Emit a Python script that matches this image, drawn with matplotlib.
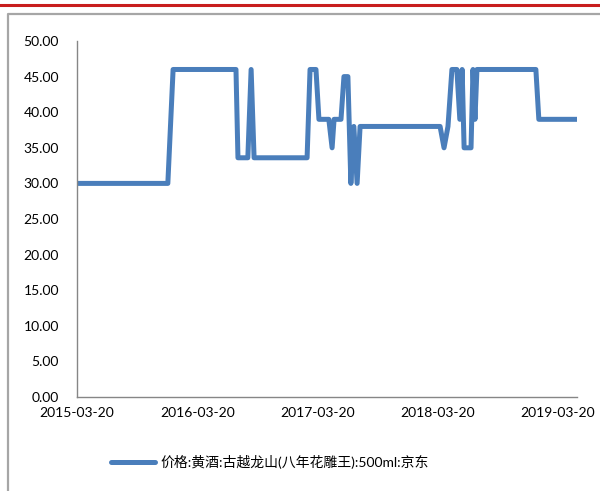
import matplotlib
matplotlib.use("Agg")
import matplotlib.pyplot as plt
import pandas as pd
from matplotlib.lines import Line2D

# Price breakpoints (JD, 500ml bottle)
dates = [
    "2015-03-20", "2015-12-21", "2016-01-06", "2016-07-15", "2016-07-21",
    "2016-08-20", "2016-08-30", "2016-09-08", "2017-02-16", "2017-02-25",
    "2017-03-15", "2017-03-24", "2017-04-23", "2017-05-03", "2017-05-09",
    "2017-05-30", "2017-06-08", "2017-06-20", "2017-06-29", "2017-07-08",
    "2017-07-18", "2017-07-27", "2018-03-27", "2018-04-08", "2018-04-20",
    "2018-05-02", "2018-05-17", "2018-05-26", "2018-06-02", "2018-06-08",
    "2018-06-29", "2018-07-05", "2018-07-11", "2018-07-17", "2019-01-12",
    "2019-01-21", "2019-05-20",
]
prices = [
    30.0, 30.0, 46.0, 46.0, 33.6,
    33.6, 46.0, 33.6, 33.6, 46.0,
    46.0, 39.0, 39.0, 35.0, 39.0,
    39.0, 45.0, 45.0, 30.0, 38.0,
    30.0, 38.0, 38.0, 35.0, 38.0,
    46.0, 46.0, 39.0, 46.0, 35.0,
    35.0, 46.0, 39.0, 46.0, 46.0,
    39.0, 39.0,
]
tick_dates = ["2015-03-20", "2016-03-20", "2017-03-20", "2018-03-20", "2019-03-20"]
series_name = "价格:黄酒:古越龙山(八年花雕王):500ml:京东"

plt.rcParams["font.family"] = ["Lato", "Noto Sans CJK SC", "DejaVu Sans"]

fig = plt.figure(figsize=(6.0, 4.91), dpi=100)
ax = fig.add_axes([0.1283, 0.1914, 0.8334, 0.7251])

x = pd.to_datetime(dates)
line, = ax.plot(x, prices, color="#4A7EBB", linewidth=3.6,
                solid_joinstyle="round", solid_capstyle="round", label=series_name)

ticks = pd.to_datetime(tick_dates)
ax.set_xlim(ticks[0], pd.Timestamp("2019-05-17"))
ax.set_xticks(ticks)
ax.set_xticklabels(tick_dates)
ax.set_ylim(0, 50)
ax.set_yticks([i * 5 for i in range(11)])
ax.set_yticklabels([f"{i * 5:.2f}" for i in range(11)])
ax.tick_params(axis="both", length=0, labelsize=10, colors="black")
ax.tick_params(axis="y", pad=13)
ax.tick_params(axis="x", pad=7)

for side in ["top", "right"]:
    ax.spines[side].set_visible(False)
for side in ["left", "bottom"]:
    ax.spines[side].set_color("#868686")
    ax.spines[side].set_linewidth(1.0)

fig.legend(handles=[line], loc="center", bbox_to_anchor=(0.45, 1 - 462 / 491),
           frameon=False, fontsize=10, handlelength=3.2, handletextpad=0.4)

# red rule along the top and the grey frame of the chart area
fig.add_artist(Line2D([0, 1], [1 - 5 / 491, 1 - 5 / 491], color="#C81E1E", linewidth=2.2))
fig.add_artist(Line2D([7.5 / 600, 7.5 / 600, 1.0], [0, 1 - 13.5 / 491, 1 - 13.5 / 491],
                      color="#A6A6A6", linewidth=1.6))

fig.savefig("out.png", dpi=100)
